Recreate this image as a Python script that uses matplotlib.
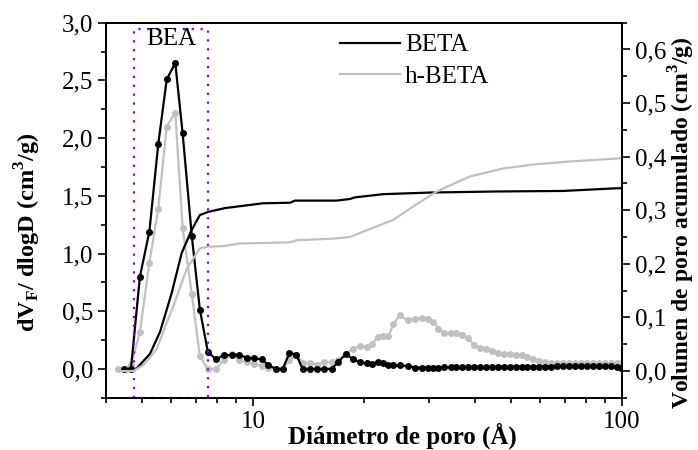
import numpy as np
import matplotlib
matplotlib.use('Agg')
import matplotlib.pyplot as plt
from matplotlib.ticker import FuncFormatter, MultipleLocator, LogLocator, NullFormatter

plt.rcParams['font.family'] = ['Liberation Serif', 'DejaVu Serif']
plt.rcParams['mathtext.fontset'] = 'custom'
plt.rcParams['mathtext.rm'] = 'Liberation Serif'
plt.rcParams['mathtext.bf'] = 'Liberation Serif:bold'

# pore diameter grid (Å) shared by the two distributions
diam = [4.32, 4.47, 4.67, 4.94, 5.24, 5.54, 5.84, 6.16, 6.45, 6.83,
        7.18, 7.55, 7.94, 8.34, 8.76, 9.18, 9.61, 10.06, 10.56, 11.00,
        11.52, 12.04, 12.56, 13.10, 13.64, 14.27, 14.94, 15.61, 16.34, 17.03,
        17.86, 18.66, 19.50, 20.33, 21.08, 21.82, 22.56, 23.30, 24.03, 25.02,
        26.26, 27.48, 28.66, 29.75, 30.81, 31.83, 32.94, 34.35, 35.49, 36.92,
        38.18, 39.71, 41.23, 42.80, 44.44, 46.13, 47.88, 49.71, 51.60, 53.47,
        55.38, 57.48, 59.68, 61.96, 64.32, 66.77, 69.32, 71.96, 74.71, 77.56,
        80.52, 83.59, 86.78, 90.09, 93.54, 97.11, 99.5]

beta_dv = [np.nan, 0.0, 0.0, 0.80, 1.19, 1.95, 2.51, 2.65, 2.04, 1.15,
           0.515, 0.147, 0.084, 0.12, 0.12, 0.125, 0.095, 0.095, 0.083, 0.035,
           0.0, 0.0, 0.14, 0.125, 0.0, 0.0, 0.0, 0.0, 0.0, 0.06,
           0.13, 0.085, 0.057, 0.05, 0.04, 0.06, 0.05, 0.032, 0.032, 0.03,
           0.026, 0.012, 0.012, 0.012, 0.012, 0.012, 0.013, 0.013, 0.013, 0.014,
           0.014, 0.015, 0.015, 0.016, 0.016, 0.017, 0.017, 0.018, 0.018, 0.019,
           0.02, 0.02, 0.02, 0.021, 0.021, 0.022, 0.022, 0.022, 0.023, 0.023,
           0.023, 0.024, 0.024, 0.024, 0.025, 0.02, 0.01]

hbeta_dv = [0.0, 0.0, 0.03, 0.32, 0.92, 1.39, 2.10, 2.22, 1.22, 0.65,
            0.11, 0.0, 0.0, 0.08, 0.13, 0.075, 0.06, 0.047, 0.026, 0.01,
            0.0, 0.0, 0.075, 0.12, 0.055, 0.055, 0.038, 0.06, 0.06, 0.075,
            0.13, 0.175, 0.20, 0.19, 0.22, 0.28, 0.283, 0.283, 0.39, 0.465,
            0.42, 0.43, 0.445, 0.43, 0.41, 0.35, 0.31, 0.31, 0.31, 0.295,
            0.27, 0.21, 0.18, 0.17, 0.156, 0.142, 0.133, 0.127, 0.121, 0.119,
            0.104, 0.084, 0.067, 0.058, 0.055, 0.055, 0.052, 0.05, 0.05, 0.05,
            0.048, 0.048, 0.048, 0.05, 0.052, 0.052, 0.055]

# cumulative pore volume (cm3/g)
beta_cum_d = [4.59, 4.84, 5.26, 5.60, 6.02, 6.41, 6.82, 7.18, 7.57, 8.40,
              10.66, 12.60, 13.00, 16.86, 18.32, 18.90, 22.55, 30.17, 45.76, 69.33,
              96.74, 100.0]
beta_cum = [0.0, 0.005, 0.032, 0.073, 0.145, 0.22, 0.263, 0.291, 0.297, 0.304,
            0.313, 0.314, 0.318, 0.318, 0.321, 0.324, 0.33, 0.333, 0.335, 0.336,
            0.341, 0.341]

hbeta_cum_d = [4.32, 4.74, 5.04, 5.48, 5.84, 6.08, 6.61, 7.18, 7.57, 8.31,
               9.22, 12.60, 13.13, 16.51, 18.32, 19.90, 24.00, 27.19, 31.47, 38.73,
               47.69, 58.73, 72.30, 100.0]
hbeta_cum = [0.0, 0.0, 0.011, 0.04, 0.09, 0.12, 0.19, 0.229, 0.232, 0.233,
             0.238, 0.24, 0.244, 0.247, 0.25, 0.26, 0.282, 0.307, 0.335, 0.363,
             0.378, 0.386, 0.391, 0.397]

bea_range = [4.77, 7.54]
bea_top = 2.945

gray = '#c0c0c0'
comma = FuncFormatter(lambda v, p: ('%.1f' % v).replace('.', ','))

fig = plt.figure(figsize=(6.98, 4.5), dpi=100)
ax = fig.add_axes([0.152, 0.116, 0.739, 0.8336])
ax2 = ax.twinx()

# pore size distributions
ax.plot(diam, beta_dv, '-o', color='black', lw=1.6, ms=4)
ax.plot(diam, hbeta_dv, '-o', color=gray, lw=1.6, ms=4, zorder=1.9)

# BEA window
ax.plot([bea_range[0], bea_range[0], bea_range[1], bea_range[1]],
        [-0.25, bea_top, bea_top, -0.25], color='#8000ff',
        ls=(0, (1, 3)), lw=1.6, clip_on=False)
ax.plot(bea_range, [-0.25, -0.25], color='#8000ff', ls=(0, (1, 3)), lw=1.6,
        clip_on=False, zorder=5)
ax.text(np.sqrt(bea_range[0] * bea_range[1]), 2.86, 'BEA', ha='center',
        va='center', fontsize=18)

# cumulative volume
ax2.plot(beta_cum_d, beta_cum, color='black', lw=1.6, label='BETA')
ax2.plot(hbeta_cum_d, hbeta_cum, color=gray, lw=1.6, label='h-BETA')

ax.set_xscale('log')
ax.set_xlim(4, 100)
ax.set_ylim(-0.25, 3.0)
ax2.set_ylim(-0.05, 0.65)

ax.xaxis.set_major_locator(LogLocator(base=10))
ax.xaxis.set_minor_locator(LogLocator(base=10, subs=np.arange(2, 10)))
ax.xaxis.set_major_formatter(FuncFormatter(lambda v, p: '%d' % v))
ax.xaxis.set_minor_formatter(NullFormatter())

ax.yaxis.set_major_locator(MultipleLocator(0.5))
ax.yaxis.set_minor_locator(MultipleLocator(0.25))
ax.yaxis.set_major_formatter(comma)
ax2.yaxis.set_major_locator(MultipleLocator(0.1))
ax2.yaxis.set_minor_locator(MultipleLocator(0.05))
ax2.yaxis.set_major_formatter(comma)

for a in (ax, ax2):
    a.tick_params(which='major', direction='out', length=6, width=1.2, labelsize=18)
    a.tick_params(which='minor', direction='out', length=3.5, width=1.2)
    for s in a.spines.values():
        s.set_linewidth(1.3)

ax.set_xlabel('Diámetro de poro (Å)', fontsize=18, fontweight='bold')
ax.xaxis.set_label_coords(0.574, -0.066)
ax.set_ylabel(r'dV$_\mathbf{F}$/ dlogD (cm$^\mathbf{3}$/g)', fontsize=17.5,
              fontweight='bold')
ax.yaxis.set_label_coords(-0.122, 0.442)
ax2.set_ylabel(r'Volumen de poro acumulado (cm$^\mathbf{3}$/g)', fontsize=17,
               fontweight='bold')
ax2.yaxis.set_label_coords(1.086, 0.466)

ax2.legend(loc='upper left', bbox_to_anchor=(0.41, 1.03), frameon=False,
           fontsize=18, handlelength=2.4, handletextpad=0.2, labelspacing=0.35)

fig.savefig('out.png', dpi=100)
